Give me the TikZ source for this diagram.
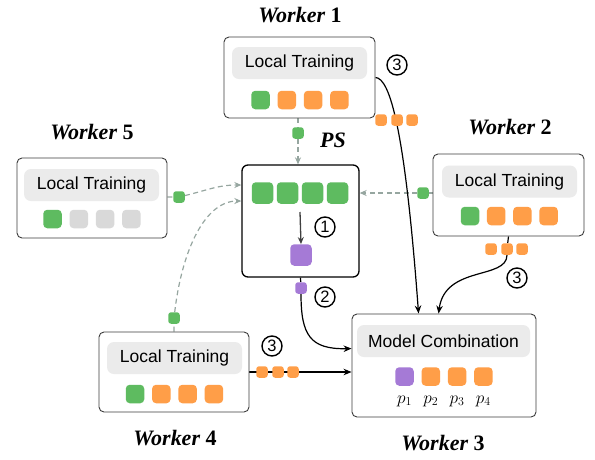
\documentclass[tikz,border=0pt]{standalone}
\usepackage{fontspec}
\setmainfont{Liberation Serif}
\setsansfont{Liberation Sans}
\usetikzlibrary{arrows.meta,backgrounds}
\definecolor{cgreen}{RGB}{94,187,96}
\definecolor{corange}{RGB}{255,158,72}
\definecolor{cpurple}{RGB}{165,122,214}
\definecolor{clgrey}{RGB}{217,217,217}
\definecolor{cinner}{RGB}{235,235,235}
\definecolor{cdash}{RGB}{150,166,160}
\definecolor{cborder}{RGB}{60,60,60}
\begin{document}
\begin{tikzpicture}[x=1pt,y=-1pt,
  wbox/.style={draw=cborder,line width=0.9pt,rounded corners=5pt,fill=white,inner sep=0pt},
  psbox/.style={draw=black,line width=1.3pt,rounded corners=6pt,fill=white,inner sep=0pt,minimum width=117,minimum height=112},
  ltbox/.style={fill=cinner,rounded corners=7pt,inner sep=0pt,minimum height=32,font=\sffamily\fontsize{17.5}{20}\selectfont},
  sq/.style={rounded corners=4pt,minimum size=18.5,inner sep=0pt},
  bigsq/.style={rounded corners=4pt,minimum size=21.5,inner sep=0pt},
  dot/.style={rounded corners=2.8pt,minimum size=11.5,inner sep=0pt},
  title/.style={font=\fontsize{22}{25}\selectfont\bfseries},
  circnum/.style={draw=black,circle,line width=1.4pt,minimum size=20,inner sep=0pt,font=\sffamily\fontsize{16.5}{16.5}\selectfont},
  plab/.style={font=\fontsize{17}{20}\selectfont},
  conn/.style={line width=1.2pt,-{Stealth[length=8pt,width=6.5pt]}},
  dconn/.style={cdash,line width=1.2pt,dash pattern=on 5pt off 3.5pt,-{Stealth[length=7pt,width=6pt]}}
]
\useasboundingbox (0,0) rectangle (595,459);

% ---------- Worker 1 ----------
\node[wbox,minimum width=151,minimum height=81] (w1) at (299.5,77.5) {};
\node[ltbox,minimum width=135] (lt1) at (299.5,63) {Local Training};
\node[sq,fill=cgreen]  (w1s1) at (260.5,100) {};
\node[sq,fill=corange] (w1s2) at (286.8,100) {};
\node[sq,fill=corange] (w1s3) at (313.1,100) {};
\node[sq,fill=corange] (w1s4) at (339.4,100) {};
\node[title] (t1) at (300,15) {\textit{Worker} 1};

% ---------- Worker 2 ----------
\node[wbox,minimum width=151,minimum height=82] (w2) at (508.5,195) {};
\node[ltbox,minimum width=135] (lt2) at (509.5,181.5) {Local Training};
\node[sq,fill=cgreen]  (w2s1) at (470,216) {};
\node[sq,fill=corange] (w2s2) at (496.2,216) {};
\node[sq,fill=corange] (w2s3) at (522.4,216) {};
\node[sq,fill=corange] (w2s4) at (548.6,216) {};
\node[title] (t2) at (510,127) {\textit{Worker} 2};

% ---------- Worker 5 ----------
\node[wbox,minimum width=150,minimum height=80] (w5) at (92,198) {};
\node[ltbox,minimum width=135] (lt5) at (91.5,185) {Local Training};
\node[sq,fill=cgreen]  (w5s1) at (52.5,219) {};
\node[sq,fill=clgrey]  (w5s2) at (78.8,219) {};
\node[sq,fill=clgrey]  (w5s3) at (105.1,219) {};
\node[sq,fill=clgrey]  (w5s4) at (131.4,219) {};
\node[title] (t5) at (92,132) {\textit{Worker} 5};

% ---------- Worker 4 ----------
\node[wbox,minimum width=150,minimum height=80] (w4) at (174,372) {};
\node[ltbox,minimum width=135] (lt4) at (174.5,358) {Local Training};
\node[sq,fill=cgreen]  (w4s1) at (135,394) {};
\node[sq,fill=corange] (w4s2) at (161.3,394) {};
\node[sq,fill=corange] (w4s3) at (187.6,394) {};
\node[sq,fill=corange] (w4s4) at (213.9,394) {};
\node[title] (t4) at (175,438) {\textit{Worker} 4};

% ---------- Worker 3 ----------
\node[wbox,minimum width=184,minimum height=103] (w3) at (444,365.5) {};
\node[ltbox,minimum width=173] (lt3) at (443.5,341) {Model Combination};
\node[sq,fill=cpurple] (w3s1) at (404.5,376.5) {};
\node[sq,fill=corange] (w3s2) at (430.8,376.5) {};
\node[sq,fill=corange] (w3s3) at (457.1,376.5) {};
\node[sq,fill=corange] (w3s4) at (483.4,376.5) {};
\node[plab] (p1) at (404.5,401) {$p_1$};
\node[plab] (p2) at (430.8,401) {$p_2$};
\node[plab] (p3) at (457.1,401) {$p_3$};
\node[plab] (p4) at (483.4,401) {$p_4$};
\node[title] (t3) at (443,443) {\textit{Worker} 3};

% ---------- PS ----------
\node[psbox] (ps) at (300.5,221) {};
\node[bigsq,fill=cgreen] (ps1) at (262.5,193) {};
\node[bigsq,fill=cgreen] (ps2) at (287.5,193) {};
\node[bigsq,fill=cgreen] (ps3) at (312.5,193) {};
\node[bigsq,fill=cgreen] (ps4) at (337.5,193) {};
\node[bigsq,fill=cpurple] (psp) at (301,255) {};
\node[title] (tps) at (333,140) {\textit{PS}};
\coordinate (pa1) at (300,212);
\draw[line width=1.3pt,draw=black!75,-{Stealth[length=7pt,width=6pt]}] (pa1) -- (psp.north);

% ---------- circled numbers ----------
\node[circnum] (c1)  at (325,227) {1};
\node[circnum] (c2)  at (325,297) {2};
\node[circnum] (c3a) at (397,65)  {3};
\node[circnum] (c3b) at (517,278) {3};
\node[circnum] (c3c) at (272,346) {3};

% ---------- dots ----------
\node[dot,fill=cgreen] (gd1) at (298,133) {};
\node[dot,fill=cgreen] (gd2) at (423,193) {};
\node[dot,fill=cgreen] (gd5) at (179,197) {};
\node[dot,fill=cgreen] (gd4) at (174,318) {};
\node[dot,fill=cpurple] (pd) at (301,288) {};
\node[dot,fill=corange] (o1a) at (381,120) {};
\node[dot,fill=corange] (o1b) at (397,120) {};
\node[dot,fill=corange] (o1c) at (412,120) {};
\node[dot,fill=corange] (o2a) at (491,249) {};
\node[dot,fill=corange] (o2b) at (507,249) {};
\node[dot,fill=corange] (o2c) at (522,249) {};
\node[dot,fill=corange] (o4a) at (262,372) {};
\node[dot,fill=corange] (o4b) at (278,372) {};
\node[dot,fill=corange] (o4c) at (293,372) {};

% ---------- connectors ----------
\begin{pgfonlayer}{background}
\draw[dconn] (w1.south -| gd1) -- (gd1) -- (ps.north -| gd1);
\draw[dconn] (w2.west |- gd2) -- (gd2) -- (ps.east |- gd2);
\draw[dconn] (w5.east |- gd5) -- (gd5) .. controls (208,190) and (218,185) .. ([yshift=36pt]ps.west);
\draw[dconn] (w4.north) -- (gd4) .. controls (182,250) and (205,201) .. ([yshift=20pt]ps.west);
\draw[conn] (w1.east) .. controls (390,78) and (405,130) .. ([xshift=67pt]w3.north west);
\draw[conn] (w2.south) -- (o2b) .. controls (507,280) and (445,265) .. ([xshift=87pt]w3.north west);
\draw[conn] (ps.south) -- (pd) .. controls (301,335) and (310,349.5) .. ([yshift=-35pt]w3.north west);
\draw[conn] (w4.east) -- (w4.east -| w3.west);
\end{pgfonlayer}
\end{tikzpicture}
\end{document}
